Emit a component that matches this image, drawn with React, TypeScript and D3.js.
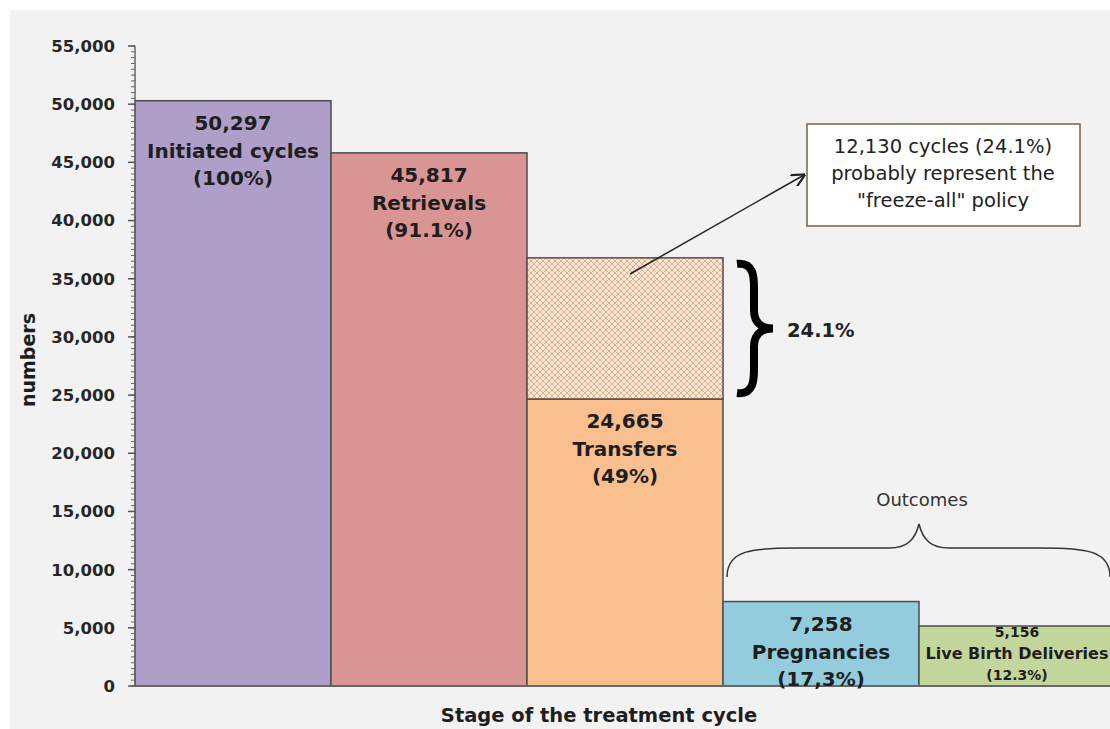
import React from "react";
import * as d3 from "d3";

const categories = ["Initiated cycles", "Retrievals", "Transfers", "Pregnancies", "Live Birth Deliveries"];
const values = [50297, 45817, 24665, 7258, 5156];
const valueLabels = ["50,297", "45,817", "24,665", "7,258", "5,156"];
const percentLabels = ["(100%)", "(91.1%)", "(49%)", "(17,3%)", "(12.3%)"];
const colors = ["#ae9fc8", "#d99594", "#fabf8f", "#93cddd", "#c3d69b"];
const freezeAll = 12130;
const freezeLabel = "24.1%";
const yTicks = [0, 5000, 10000, 15000, 20000, 25000, 30000, 35000, 40000, 45000, 50000, 55000];
const noteLines = ["12,130 cycles (24.1%)", "probably represent the", "\"freeze-all\" policy"];

export default function App() {
  const W = 1110, H = 729;
  const y = d3.scaleLinear().domain([0, 55000]).range([686, 46]);
  const x = d3.scaleBand<string>().domain(categories).range([135, 1115]).padding(0);
  const minor = d3.range(0, 55001, 500);
  const bw = x.bandwidth();
  const font = "'DejaVu Sans', Verdana, sans-serif";

  const tx = x("Transfers")!;
  const hatchTop = y(values[2] + freezeAll);
  const hatchBot = y(values[2]);

  const px = x("Pregnancies")!;
  const bx = tx + bw + 14;
  const bm = (hatchTop + hatchBot) / 2;
  const sx = bx + 17;

  const bracePath = `M ${bx} ${hatchTop + 6}
    C ${sx} ${hatchTop + 4}, ${sx} ${hatchTop + 20}, ${sx} ${hatchTop + 30}
    L ${sx} ${bm - 18}
    C ${sx} ${bm - 4}, ${sx + 10} ${bm}, ${bx + 36} ${bm}
    C ${sx + 10} ${bm}, ${sx} ${bm + 4}, ${sx} ${bm + 18}
    L ${sx} ${hatchBot - 30}
    C ${sx} ${hatchBot - 20}, ${sx} ${hatchBot - 4}, ${bx} ${hatchBot - 6}`;

  const ox0 = px + 4, ox1 = 1110, oc = px + bw;
  const outPath = `M ${ox0} 577 C ${ox0} 550, ${ox0 + 25} 548, ${ox0 + 70} 548
    L ${oc - 30} 548 C ${oc - 12} 548, ${oc - 4} 540, ${oc} 524
    C ${oc + 4} 540, ${oc + 12} 548, ${oc + 30} 548
    L ${ox1 - 70} 548 C ${ox1 - 25} 548, ${ox1} 550, ${ox1} 577`;

  return (
    <svg width={W} height={H} style={{ position: "absolute", left: 0, top: 0 }} fontFamily={font}>
      <defs>
        <pattern id="hatch" width="6" height="6" patternUnits="userSpaceOnUse">
          <rect width="6" height="6" fill="#fde6d2" />
          <path d="M0 0 L6 6 M6 0 L0 6" stroke="#d9a98a" strokeWidth="0.9" />
        </pattern>
        <marker id="arr" viewBox="0 0 10 10" refX="9" refY="5" markerWidth="9" markerHeight="9" orient="auto">
          <path d="M0 0 L10 5 L0 10" fill="none" stroke="#222" strokeWidth="1.6" />
        </marker>
      </defs>
      <rect x={0} y={0} width={W} height={H} fill="#ffffff" />
      <rect x={10} y={10} width={W - 10} height={H - 10} fill="#f2f2f2" />

      {categories.map((c, i) => (
        <rect key={c} x={x(c)} y={y(values[i])} width={bw} height={y(0) - y(values[i])}
          fill={colors[i]} stroke="#4d4d4d" strokeWidth={1.5} />
      ))}
      <rect x={tx} y={hatchTop} width={bw} height={hatchBot - hatchTop} fill="url(#hatch)" stroke="#5a4a40" strokeWidth={1.5} />

      {/* y axis */}
      <line x1={135} x2={135} y1={y(0)} y2={y(55000)} stroke="#666" strokeWidth={1.5} />
      {minor.map(v => (
        <line key={"m" + v} x1={131} x2={135} y1={y(v)} y2={y(v)} stroke="#666" strokeWidth={1} />
      ))}
      {yTicks.map(v => (
        <g key={v}>
          <line x1={128} x2={135} y1={y(v)} y2={y(v)} stroke="#555" strokeWidth={1.5} />
          <text x={115} y={y(v)} dy="0.36em" textAnchor="end" fontSize={16.5} fontWeight="bold" fill="#262626">
            {d3.format(",")(v)}
          </text>
        </g>
      ))}
      <line x1={135} x2={W} y1={y(0)} y2={y(0)} stroke="#666" strokeWidth={1.5} />

      {/* bar labels */}
      {categories.map((c, i) => {
        const cx = x(c)! + bw / 2;
        const small = i === 4;
        const top = i === 2 ? hatchBot : y(values[i]);
        if (small) {
          const y0 = top + 11;
          return (
            <g key={"l" + c} fontWeight="bold" fill="#1e1e1e" textAnchor="middle">
              <text x={cx} y={y0} fontSize={14}>{valueLabels[i]}</text>
              <text x={cx} y={y0 + 22} fontSize={16}>{c}</text>
              <text x={cx} y={y0 + 43} fontSize={14}>{percentLabels[i]}</text>
            </g>
          );
        }
        const y0 = top + 29.5;
        const lh = 27.5;
        return (
          <g key={"l" + c} fontWeight="bold" fontSize={20} fill="#1e1e1e" textAnchor="middle">
            <text x={cx} y={y0}>{valueLabels[i]}</text>
            <text x={cx} y={y0 + lh}>{c}</text>
            <text x={cx} y={y0 + 2 * lh}>{percentLabels[i]}</text>
          </g>
        );
      })}

      {/* brace and 24.1% */}
      <path d={bracePath} fill="none" stroke="#000" strokeWidth={8} strokeLinecap="butt" />
      <text x={787} y={337} fontSize={19.5} fontWeight="bold" fill="#222">{freezeLabel}</text>

      {/* arrow and note */}
      <line x1={630} y1={274} x2={804} y2={175} stroke="#222" strokeWidth={1.5} markerEnd="url(#arr)" />
      <rect x={807} y={124} width={273} height={102} fill="#ffffff" stroke="#7a5e50" strokeWidth={1.5} />
      {noteLines.map((t, i) => (
        <text key={t} x={943} y={153 + i * 27} textAnchor="middle" fontSize={19.5} fill="#222">{t}</text>
      ))}

      {/* outcomes brace */}
      <path d={outPath} fill="none" stroke="#333" strokeWidth={1.5} />
      <text x={922} y={506} textAnchor="middle" fontSize={18} fill="#333">Outcomes</text>

      {/* axis titles */}
      <text x={599} y={722} textAnchor="middle" fontSize={19.5} fontWeight="bold" fill="#1e1e1e">Stage of the treatment cycle</text>
      <text transform={`translate(35, 360) rotate(-90)`} textAnchor="middle" fontSize={19} fontWeight="bold" fill="#1e1e1e">numbers</text>
    </svg>
  );
}
